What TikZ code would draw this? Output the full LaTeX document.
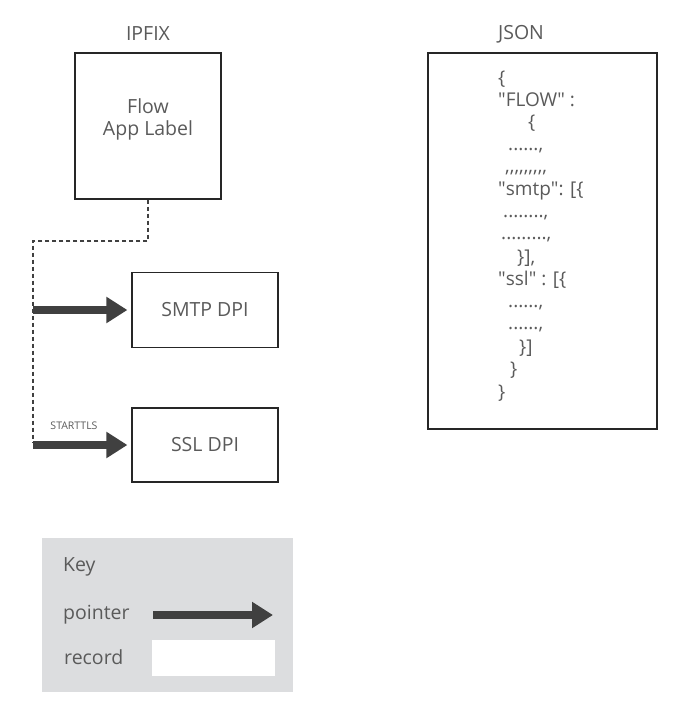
\documentclass[tikz,border=0pt]{standalone}
\usepackage{fontspec}
\setmainfont{Open Sans}
\usetikzlibrary{arrows.meta}
\definecolor{txt}{HTML}{5A5A5A}
\definecolor{ink}{HTML}{404040}
\definecolor{keygray}{HTML}{DCDDDF}
\newcommand{\q}{\textquotedbl}
\newcommand{\cm}{,\kern0pt}
\tikzset{
  rec/.style={draw=black!85, line width=1.2pt, inner sep=0pt},
  title/.style={text=txt, font=\fontsize{19.5}{22}\selectfont},
  jsn/.style={text=txt, font=\fontsize{19}{22}\selectfont, anchor=base west, inner sep=0pt, text height=13pt, text depth=4pt},
  pointer/.style={ink, line width=8pt, -{Triangle[length=21pt,width=25pt]}}
}
\begin{document}
\begin{tikzpicture}[x=1pt, y=-1pt]
  \useasboundingbox (0,0) rectangle (691,720);
  \path (148,34) node[title] (ipfixT){IPFIX} (521,34) node[title] (jsonT){JSON}
    (148,126) node[rec, minimum width=146pt, minimum height=146pt] (flow){}
    (148,119) node[title, align=center] (flowT){Flow\\App Label}
    (205,310) node[rec, minimum width=146pt, minimum height=75pt, title] (smtp){SMTP DPI}
    (205,445) node[rec, minimum width=146pt, minimum height=74pt, title] (ssl){SSL DPI}
    (542.5,241) node[rec, minimum width=229pt, minimum height=376pt] (json){};
  % json lines, placed on their baselines
  \path (498,84) node[jsn] (j1){\{} (498,106) node[jsn] (j2){\q FLOW\q{} :}
    (528,128) node[jsn] (j3){\{} (508,150) node[jsn] (j4){......,}
    (505,172) node[jsn] (j5){\cm\cm\cm\cm\cm\cm\cm\cm\cm} (498,195) node[jsn] (j6){\q smtp\q: [\{}
    (503,217) node[jsn] (j7){........,} (501,239) node[jsn] (j8){.........,}
    (517,263) node[jsn] (j9){\}],} (498,285) node[jsn] (j10){\q ssl\q{} : [\{}
    (508,307) node[jsn] (j11){......,} (508,329) node[jsn] (j12){......,}
    (519,353) node[jsn] (j13){\}]} (510,375) node[jsn] (j14){\}}
    (498,398) node[jsn] (j15){\}};
  \coordinate (bend) at (33,241);
  \coordinate (tapA) at (33,310);
  \coordinate (tapB) at (33,445);
  \draw[ink, line width=2pt, dash pattern=on 4pt off 3pt] (flow.south) |- (bend) -- ([yshift=2pt]tapB);
  \draw[pointer] (tapA) -- ([xshift=-4pt]smtp.west);
  \draw[pointer] (tapB) -- ([xshift=-4pt]ssl.west);
  \path (74,426) node[text=txt, font=\fontsize{10.5}{12}\selectfont] (tls){STARTTLS};
  % key
  \path (167.5,614.5) node[fill=keygray, minimum width=251pt, minimum height=154pt] (key){};
  \path (63,567) node[title, anchor=west, inner sep=0pt] (keyT){Key}
    (63,615) node[title, anchor=west, inner sep=0pt] (ptrT){pointer}
    (64,657) node[title, anchor=west, inner sep=0pt] (recT){record}
    (213.5,658) node[fill=white, minimum width=123pt, minimum height=36pt, inner sep=0pt] (recS){};
  \coordinate (ptrA) at (153,615);
  \coordinate (ptrB) at (273,615);
  \draw[pointer] (ptrA) -- (ptrB);
\end{tikzpicture}
\end{document}
